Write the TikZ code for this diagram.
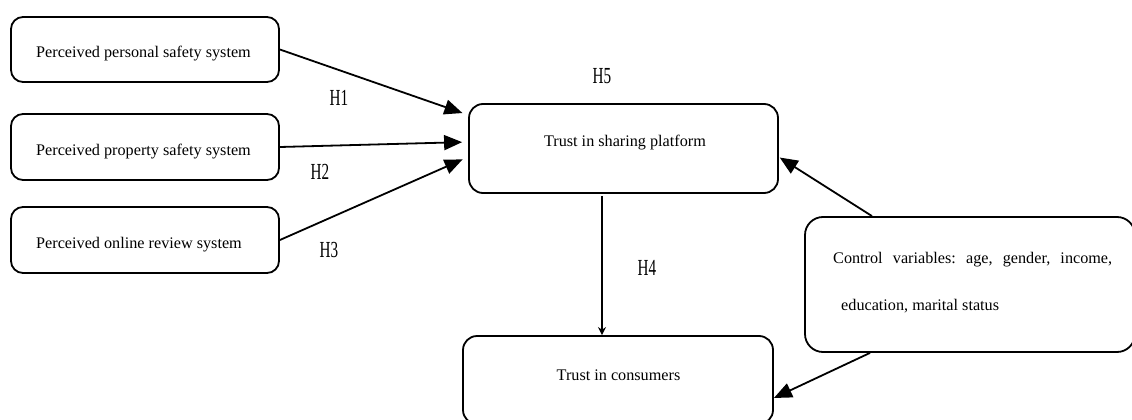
\documentclass[tikz,border=0pt]{standalone}
\usepackage{fontspec}
\setmainfont{Liberation Serif}
\usetikzlibrary{arrows.meta,calc}
\begin{document}
\begin{tikzpicture}[x=1pt,y=-1pt,
  box/.style={draw,line width=1.8pt,rounded corners=12pt,inner sep=0pt},
  txt/.style={font=\fontsize{16.2}{19}\selectfont,inner sep=0pt},
  hlab/.style={font=\fontsize{23}{26}\selectfont,inner sep=0pt},
  arr/.style={line width=1.8pt,-{Triangle[length=18pt,width=15pt]}},
  thin arr/.style={line width=1.5pt,-{Stealth[length=8pt,width=8pt]}}]
\useasboundingbox (0,0) rectangle (1132,420);
\clip (0,0) rectangle (1132,420);
\node[box,minimum width=268pt,minimum height=65pt] (A) at (145,49.5) {};
\node[box,minimum width=268pt,minimum height=66pt] (B) at (145,147) {};
\node[box,minimum width=268pt,minimum height=66pt] (C) at (145,240) {};
\node[txt,anchor=west] (At) at (36,54) {Perceived personal safety system};
\node[txt,anchor=west] (Bt) at (36,152) {Perceived property safety system};
\node[txt,anchor=west] (Ct) at (36,245) {Perceived online review system};
\node[box,rounded corners=14pt,minimum width=309pt,minimum height=89pt] (P) at (623.5,148.5) {};
\node[txt] (Pt) at (625,143) {Trust in sharing platform};
\node[box,rounded corners=14pt,minimum width=310pt,minimum height=88pt] (Q) at (618,380) {};
\node[txt] (Qt) at (618.5,375) {Trust in consumers};
\node[box,rounded corners=18pt,minimum width=330pt,minimum height=135pt] (K) at (970,284.5) {};
\node[txt,anchor=west] (K1) at (833,260) {\hbox to 279pt{Control\hfill variables:\hfill age,\hfill gender,\hfill income,}};
\node[txt,anchor=west] (K2) at (841,306) {education, marital status};
\node[hlab] (H1) at (339,98) {\scalebox{0.66}[1]{H1}};
\node[hlab] (H2) at (320,172) {\scalebox{0.66}[1]{H2}};
\node[hlab] (H3) at (329,250) {\scalebox{0.66}[1]{H3}};
\node[hlab] (H5) at (602,76) {\scalebox{0.66}[1]{H5}};
\node[hlab] (H4) at (647,268) {\scalebox{0.66}[1]{H4}};
\draw[arr,shorten >=6pt] (A.east) -- ([yshift=33.5pt]P.west);
\draw[arr,shorten >=6pt] (B.east) -- ([yshift=6.5pt]P.west);
\draw[arr,shorten >=6pt] (C.east) -- ([yshift=-8.5pt]P.west);
\draw[thin arr,shorten <=2pt] ([xshift=-21.5pt]P.south) -- ([xshift=-16pt]Q.north);
\draw[arr,shorten >=1pt] ([xshift=-98pt]K.north) -- ([yshift=-8.5pt]P.east);
\draw[arr] ([xshift=-100pt]K.south) -- ([yshift=-18pt]Q.east);
\end{tikzpicture}
\end{document}
